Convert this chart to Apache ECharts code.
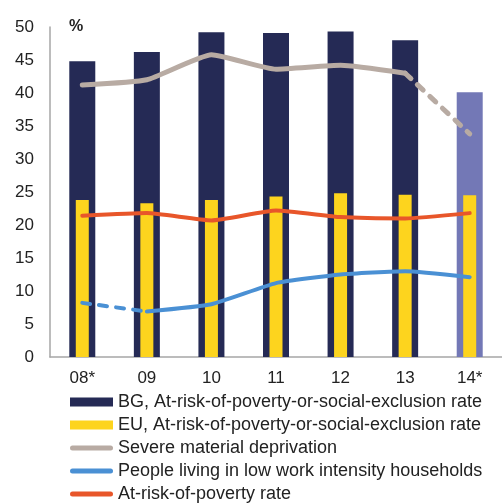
<!DOCTYPE html>
<html><head><meta charset="utf-8">
<script src="https://cdn.jsdelivr.net/npm/echarts@6/dist/echarts.min.js"></script>
<style>html,body{margin:0;padding:0;background:#fff}#c{width:502px;height:504px}</style>
</head><body><div id="c"></div>
<script>
var categories = ['08*', '09', '10', '11', '12', '13', '14*'];
var bgArope = [44.8, 46.2, 49.2, 49.1, 49.3, 48.0, 40.1];
var euArope = [23.8, 23.3, 23.8, 24.3, 24.8, 24.6, 24.5];
var severeDep = [41.2, 42.0, 45.8, 43.6, 44.2, 43.0, 33.8];
var lowWork = [8.2, 6.9, 8.0, 11.2, 12.5, 13.0, 12.1];
var arop = [21.4, 21.8, 20.7, 22.2, 21.2, 21.0, 21.8];
var yTicks = [0, 5, 10, 15, 20, 25, 30, 35, 40, 45, 50];

var names = ['BG, At-risk-of-poverty-or-social-exclusion rate',
  'EU, At-risk-of-poverty-or-social-exclusion rate',
  'Severe material deprivation',
  'People living in low work intensity households',
  'At-risk-of-poverty rate'];
var C = {bg:'#252a55', bgLight:'#7378b6', eu:'#fdd41e', gray:'#b8aba3', blue:'#4a90d4', red:'#e8562a'};
var font = 'Liberation Sans, Arial, sans-serif';

var sevSolid = severeDep.map(function(v,i){return i<=5?v:null;});
var sevDash = severeDep.map(function(v,i){return i>=5?v:null;});
var lwDash = lowWork.map(function(v,i){return i<=1?v:null;});
var lwSolid = lowWork.map(function(v,i){return i>=1?v:null;});

var bgData = bgArope.map(function(v,i){
  return i===6 ? {value:v, itemStyle:{color:C.bgLight}} : v;
});

var lineIcon = 'path://M0,0 M0,9 M2.5,2 L40.5,2 A2.5,2.5 0 0 1 40.5,7 L2.5,7 A2.5,2.5 0 0 1 2.5,2 Z M43,0 M43,9';

var chart = echarts.init(document.getElementById('c'));
function line(name, data, color, w, dashed){
  return {name:name, type:'line', data:data, smooth:0.15, symbol:'none', showSymbol:false,
    connectNulls:false, z:5,
    lineStyle:{color:color, width:w, type:dashed?[8,9]:'solid', cap:'round', join:'round'},
    itemStyle:{color:color}};
}
var axisLabelStyle = {fontFamily:font, fontSize:17, color:'#222'};
chart.setOption({
  animation:false,
  title:{text:'%', left:64, top:14, textStyle:{fontFamily:font, fontSize:16, fontWeight:'bold', color:'#222'}},
  grid:{left:50, right:-13.5, top:27, bottom:147, containLabel:false},
  xAxis:[
    {type:'category', data:categories, boundaryGap:true,
      axisLine:{lineStyle:{color:'#a6a6a6', width:1.5}}, axisTick:{show:false},
      axisLabel:Object.assign({margin:13}, axisLabelStyle)},
    {type:'category', data:categories, boundaryGap:true, show:false}
  ],
  yAxis:{type:'value', min:yTicks[0], max:yTicks[yTicks.length-1], interval:5,
    axisLine:{show:true, lineStyle:{color:'#a6a6a6', width:1.5}}, axisTick:{show:false},
    splitLine:{show:false},
    axisLabel:Object.assign({margin:16}, axisLabelStyle)},
  legend:{orient:'vertical', left:65, top:388, height:200, itemWidth:43, itemHeight:9, itemGap:5,
    textStyle:{fontFamily:font, fontSize:18, color:'#222'},
    data:[{name:names[0], icon:'rect'},{name:names[1], icon:'rect'},
      {name:names[2], icon:lineIcon},{name:names[3], icon:lineIcon},{name:names[4], icon:lineIcon}]},
  series:[
    {name:names[0], type:'bar', data:bgData, barWidth:26, xAxisIndex:0, itemStyle:{color:C.bg}, z:2},
    {name:names[1], type:'bar', data:euArope, barWidth:13, xAxisIndex:1, itemStyle:{color:C.eu}, z:3},
    line(names[2], sevSolid, C.gray, 5, false),
    line('sevDash', sevDash, C.gray, 5, true),
    line(names[3], lwSolid, C.blue, 4, false),
    line('lwDash', lwDash, C.blue, 4, true),
    line(names[4], arop, C.red, 4, false)
  ]
});
</script></body></html>
